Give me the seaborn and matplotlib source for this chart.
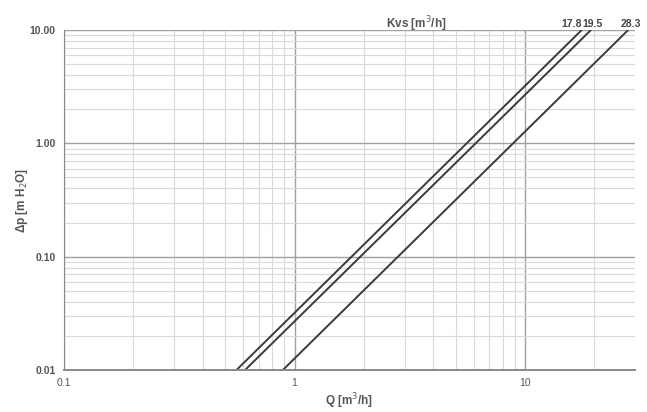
#%% IMPORTS
from matplotlib import pyplot as plt
from matplotlib.ticker import LogLocator, NullFormatter, FixedLocator, FixedFormatter
import pandas as pd
import seaborn as sns

#%% DATA
kvs_labels = ["17.8", "19.5", "28.3"]
q_low = [0.56, 0.61, 0.89]     # Q at dp = 0.01 m H2O
q_high = [17.6, 19.3, 28.0]    # Q at dp = 10 m H2O
dp_low = 0.01
dp_high = 10.0

x_ticks = [0.1, 1, 10]
x_tick_labels = ["0.1", "1", "10"]
y_ticks = [0.01, 0.1, 1, 10]
y_tick_labels = ["0.01", "0.10", "1.00", "10.00"]

#%% FRAME
rows = []
for lab, q0, q1 in zip(kvs_labels, q_low, q_high):
    rows.append({"kvs": lab, "Q": q0, "dp": dp_low})
    rows.append({"kvs": lab, "Q": q1, "dp": dp_high})
df = pd.DataFrame(rows)

#%% PLOT
sns.set_style("white")
plt.rcParams["font.family"] = ["Liberation Sans", "DejaVu Sans"]

fig = plt.figure(figsize=(6.47, 4.12), dpi=100)
ax = fig.add_axes([0.099, 0.102, 0.8825, 0.825])

sns.lineplot(data=df, x="Q", y="dp", units="kvs", estimator=None,
             color="#3a3a3a", linewidth=1.4, ax=ax)

ax.set_xscale("log")
ax.set_yscale("log")
ax.set_xlim(0.1, 30)
ax.set_ylim(0.01, 10)

ax.xaxis.set_major_locator(FixedLocator(x_ticks))
ax.xaxis.set_major_formatter(FixedFormatter(x_tick_labels))
ax.yaxis.set_major_locator(FixedLocator(y_ticks))
ax.yaxis.set_major_formatter(FixedFormatter(y_tick_labels))
ax.xaxis.set_minor_locator(LogLocator(base=10, subs=range(2, 10)))
ax.yaxis.set_minor_locator(LogLocator(base=10, subs=range(2, 10)))
ax.xaxis.set_minor_formatter(NullFormatter())
ax.yaxis.set_minor_formatter(NullFormatter())

ax.grid(which="major", color="#a0a0a0", linewidth=1.0)
ax.grid(which="minor", color="#dadada", linewidth=0.8)
ax.set_axisbelow(True)

ax.tick_params(which="both", length=0, labelsize=7.5, colors="#555555", pad=6)
for lbl in ax.get_yticklabels():
    lbl.set_fontweight("bold")

for side in ["top", "right"]:
    ax.spines[side].set_visible(False)
ax.spines["left"].set_color("#8a8a8a")
ax.spines["bottom"].set_color("#8a8a8a")
ax.spines["bottom"].set_linewidth(1.4)

ax.set_xlabel("Q [m$^3$/h]", fontsize=8.5, fontweight="bold", color="#555555", labelpad=2)
ax.set_ylabel("Δp [m H$_2$O]", fontsize=8.5, fontweight="bold", color="#555555", labelpad=0)

# Kvs labels above the line ends
label_ha = ["right", "left", "center"]
label_dx = [0, -6, 2]
for lab, q1, ha, dx in zip(kvs_labels, q_high, label_ha, label_dx):
    ax.annotate(lab, xy=(q1, dp_high), xytext=(dx, 1), textcoords="offset points",
                ha=ha, va="bottom", fontsize=7.5, fontweight="bold", color="#444444",
                annotation_clip=False)
ax.annotate("Kvs [m$^3$/h]", xy=(3.36, dp_high), xytext=(0, -2.5), textcoords="offset points",
            ha="center", va="bottom", fontsize=8.5, fontweight="bold", color="#555555",
            annotation_clip=False)

fig.savefig("out.png", dpi=100, facecolor="white")
